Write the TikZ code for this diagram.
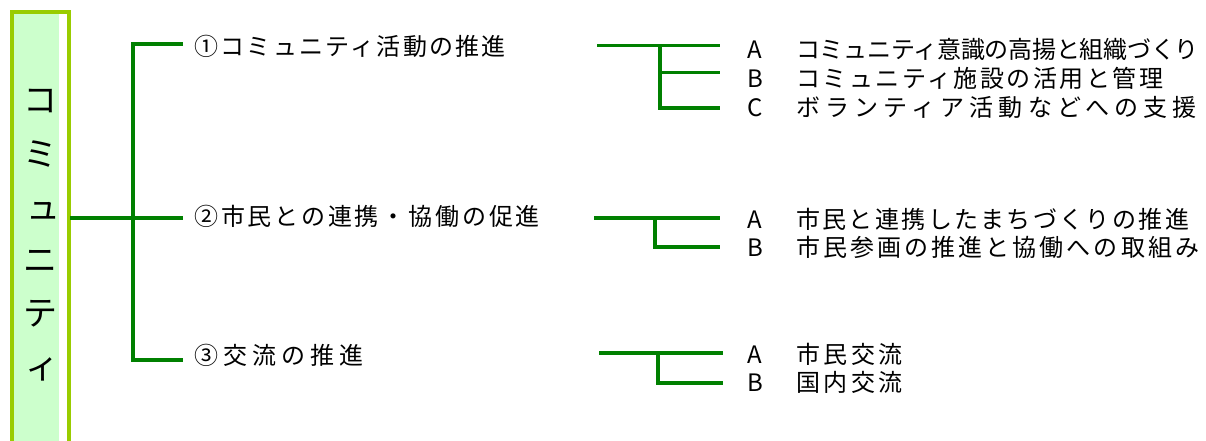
\documentclass[tikz,border=0pt]{standalone}
\usepackage{fontspec}
\setmainfont{Noto Sans CJK JP}
\definecolor{lineGreen}{HTML}{008000}
\definecolor{boxBorder}{HTML}{99CC00}
\definecolor{boxFill}{HTML}{CCFFCC}
\newcommand{\lsp}[2]{{\addfontfeature{LetterSpace=#1}#2}}
\tikzset{
  gline/.style={draw=lineGreen, line width=3.4pt, line join=miter},
  txt/.style={anchor=base west, inner sep=0pt, font=\fontsize{24}{24}\selectfont},
  vchar/.style={anchor=base, inner sep=0pt, font=\fontsize{34}{34}\selectfont}
}
\begin{document}
\begin{tikzpicture}[x=1pt,y=-1pt]
\useasboundingbox (0,0) rectangle (1206,441);
\begin{scope}
\clip (0,0) rectangle (1206,441);
% side box
\fill[white] (12,12) rectangle (70,460);
\fill[boxFill] (13,13) rectangle (59,460);
\draw[boxBorder, line width=3.5pt] (12,460) -- (12,12) -- (69,12) -- (69,460);
\end{scope}
% vertical title
\node[vchar] (c1) at (40,100+13) {コ};
\node[vchar] (c2) at (40,153+13) {ミ};
\node[vchar] (c3) at (43,206+13) {ュ};
\node[vchar] (c4) at (40,259+13) {ニ};
\node[vchar] (c5) at (40,312+13) {テ};
\node[vchar] (c6) at (42,365+13) {ィ};
% main tree
\coordinate (boxR) at (70,218);
\coordinate (v1) at (133,44);
\coordinate (v3) at (133,360);
\coordinate (e1) at (183,44);
\coordinate (e2) at (183,218);
\coordinate (e3) at (183,360);
\draw[gline] (e1) -- (v1) -- (v3) -- (e3);
\draw[gline] (boxR) -- (e2);
% level 1 texts
\node[txt] (t1) at (194,46+9.1) {\lsp{9.5}{①コミュニティ活動の推進}};
\node[txt] (t2) at (194,216+9.1) {\lsp{11.8}{②市民との連携・協働の促進}};
\node[txt] (t3) at (194,355+9.1) {\lsp{21}{③交流の推進}};
% group 1
\coordinate (g1s) at (597,45.5);
\coordinate (g1a) at (720,45.5);
\coordinate (g1j) at (660,45.5);
\coordinate (g1jb) at (660,72.5);
\coordinate (g1jc) at (660,108);
\coordinate (g1b) at (720,72.5);
\coordinate (g1c) at (720,108);
\draw[gline] (g1s) -- (g1a);
\draw[gline] (g1j) -- (g1jc) -- (g1c);
\draw[gline] (g1jb) -- (g1b);
% group 2
\coordinate (g2s) at (594,218);
\coordinate (g2a) at (720,218);
\coordinate (g2j) at (655,218);
\coordinate (g2jb) at (655,247);
\coordinate (g2b) at (720,247);
\draw[gline] (g2s) -- (g2a);
\draw[gline] (g2j) -- (g2jb) -- (g2b);
% group 3
\coordinate (g3s) at (599,353);
\coordinate (g3a) at (723,353);
\coordinate (g3j) at (658,353);
\coordinate (g3jb) at (658,383);
\coordinate (g3b) at (723,383);
\draw[gline] (g3s) -- (g3a);
\draw[gline] (g3j) -- (g3jb) -- (g3b);
% labels group 1
\node[txt] (l1a) at (747,49+9.1) {A};
\node[txt] (l1b) at (747,78+9.1) {B};
\node[txt] (l1c) at (747,107+9.1) {C};
\node[txt] (r1a) at (796,49+9.1) {\lsp{-1}{コミュニティ意識の高揚と組織づくり}};
\node[txt] (r1b) at (796,78+9.1) {\lsp{10.5}{コミュニティ施設の活用と管理}};
\node[txt] (r1c) at (796,107+9.1) {\lsp{21.5}{ボランティア活動などへの支援}};
% labels group 2
\node[txt] (l2a) at (747,219+9.1) {A};
\node[txt] (l2b) at (747,247+9.1) {B};
\node[txt] (r2a) at (796,219+9.1) {\lsp{10}{市民と連携したまちづくりの推進}};
\node[txt] (r2b) at (796,247+9.1) {\lsp{12.8}{市民参画の推進と協働への取組み}};
% labels group 3
\node[txt] (l3a) at (747,354+9.1) {A};
\node[txt] (l3b) at (747,382+9.1) {B};
\node[txt] (r3a) at (796,354+9.1) {\lsp{15}{市民交流}};
\node[txt] (r3b) at (796,382+9.1) {\lsp{15}{国内交流}};
\end{tikzpicture}
\end{document}
